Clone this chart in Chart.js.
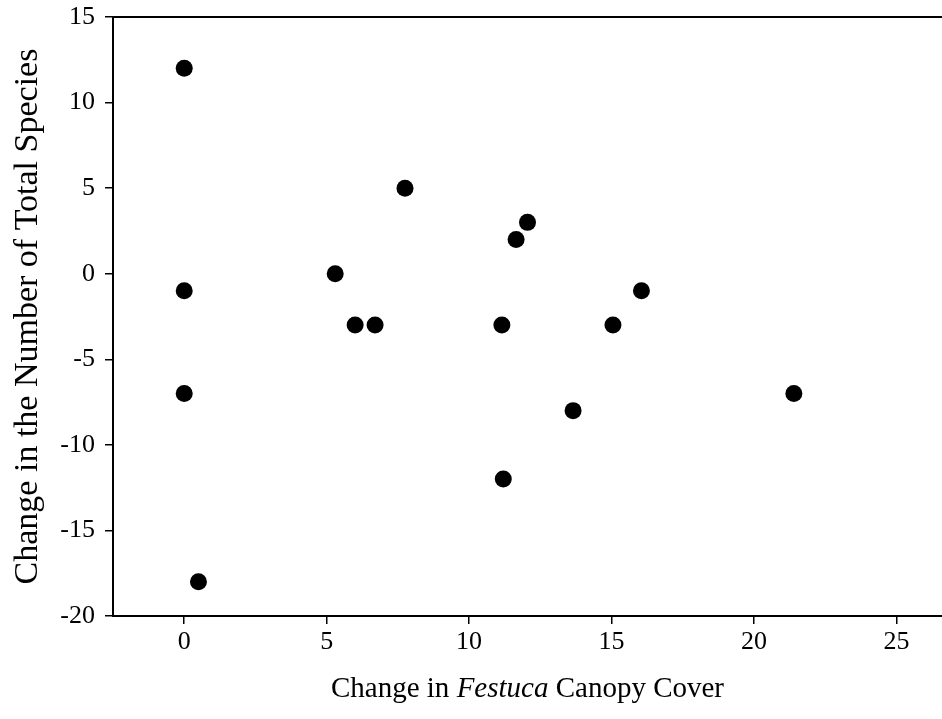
<!DOCTYPE html>
<html>
<head>
<meta charset="utf-8">
<script src="https://cdn.jsdelivr.net/npm/chart.js@4"></script>
<style>
  html, body { margin: 0; padding: 0; background: #fff; }
  #wrap { position: relative; width: 942px; height: 719px; }
  #xTitle {
    position: absolute; left: 113px; width: 829px; top: 671px;
    text-align: center; font-family: 'Liberation Serif', 'Times New Roman', serif;
    font-size: 29px; color: #000;
  }
</style>
</head>
<body>
<div id="wrap">
  <canvas id="chart" width="942" height="719"></canvas>
  <div id="xTitle">Change in <i>Festuca</i> Canopy Cover</div>
</div>
<script>
// data
const festucaChange = [0, 0, 0, 0.5, 5.3, 6.0, 6.7, 7.75, 11.15, 11.2, 11.65, 12.05, 13.65, 15.05, 16.05, 21.4];
const speciesChange = [12, -1, -7, -18, 0, -3, -3, 5, -3, -12, 2, 3, -8, -3, -1, -7];
const xTicks = [0, 5, 10, 15, 20, 25];
const yTicks = [-20, -15, -10, -5, 0, 5, 10, 15];

const serif = "'Liberation Serif', 'Times New Roman', serif";

const points = festucaChange.map((x, i) => ({ x: x, y: speciesChange[i] }));

new Chart(document.getElementById('chart'), {
    type: 'scatter',
    data: {
        datasets: [{
            data: points,
            pointRadius: 8.5,
            pointHoverRadius: 8.5,
            pointBackgroundColor: '#000',
            pointBorderColor: '#000',
            pointBorderWidth: 0
        }]
    },
    options: {
        responsive: false,
        animation: false,
        layout: { padding: 0, autoPadding: false },
        plugins: {
            legend: { display: false },
            tooltip: { enabled: false }
        },
        scales: {
            x: {
                type: 'linear',
                position: 'bottom',
                min: -2.5,
                max: 26.6,
                afterBuildTicks: function(scale) {
                    scale.ticks = xTicks.map(v => ({ value: v }));
                },
                afterFit: function(scale) { scale.height = 103; },
                grid: { display: true, drawOnChartArea: false, drawTicks: true, tickLength: 8, color: '#000', lineWidth: 1.5 },
                border: { display: true, color: '#000', width: 2 },
                ticks: { color: '#000', font: { family: serif, size: 26 }, padding: 3, maxRotation: 0 }
            },
            // top frame line only
            xTop: {
                type: 'linear',
                position: 'top',
                min: -2.5,
                max: 26.6,
                afterFit: function(scale) { scale.height = 17; },
                grid: { display: false },
                border: { display: true, color: '#000', width: 2 },
                ticks: { display: false }
            },
            y: {
                type: 'linear',
                min: -20,
                max: 15,
                afterBuildTicks: function(scale) {
                    scale.ticks = yTicks.map(v => ({ value: v }));
                },
                afterFit: function(scale) { scale.width = 113; },
                grid: { display: true, drawOnChartArea: false, drawTicks: true, tickLength: 8, color: '#000', lineWidth: 1.5 },
                border: { display: true, color: '#000', width: 2 },
                // small lineHeight so the "15" label doesn't push the plot down
                ticks: { color: '#000', font: { family: serif, size: 26, lineHeight: 0.1 }, padding: 10 },
                title: {
                    display: true,
                    text: 'Change in the Number of Total Species',
                    color: '#000',
                    font: { family: serif, size: 34 },
                    padding: { top: 8, bottom: 0 }
                }
            }
        }
    }
});
</script>
</body>
</html>
